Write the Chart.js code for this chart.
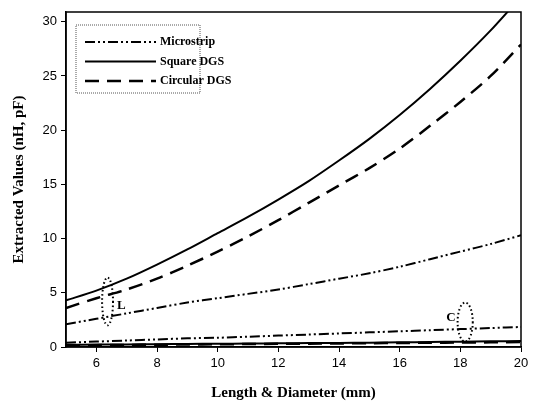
<!DOCTYPE html>
<html>
<head>
<meta charset="utf-8">
<script src="https://cdn.jsdelivr.net/npm/chart.js@4.4.0/dist/chart.umd.min.js"></script>
<style>
  html, body { margin: 0; padding: 0; background: #fff; }
  #wrap { width: 533px; height: 406px; }
</style>
</head>
<body>
<div id="wrap"><canvas id="chart"></canvas></div>
<script>
// x values (mm)
const lengths = [5, 6, 7, 8, 9, 10, 11, 12, 13, 14, 15, 16, 17, 18, 19, 20];

// inductance (nH)
const microstripL = [2.1, 2.6, 3.1, 3.6, 4.1, 4.5, 4.9, 5.3, 5.8, 6.3, 6.8, 7.4, 8.1, 8.8, 9.5, 10.3];
const squareL = [4.3, 5.2, 6.3, 7.6, 9.0, 10.5, 12.0, 13.6, 15.3, 17.2, 19.2, 21.4, 23.8, 26.4, 29.2, 32.3];
const circularL = [3.6, 4.5, 5.3, 6.3, 7.5, 8.8, 10.2, 11.7, 13.3, 14.9, 16.5, 18.3, 20.4, 22.6, 25.0, 27.9];

// capacitance (pF)
const microstripC = [0.4, 0.5, 0.6, 0.7, 0.8, 0.85, 0.95, 1.05, 1.15, 1.25, 1.35, 1.45, 1.55, 1.65, 1.75, 1.85];
const squareC = [0.2, 0.22, 0.24, 0.26, 0.28, 0.3, 0.32, 0.34, 0.36, 0.38, 0.4, 0.43, 0.46, 0.49, 0.52, 0.55];
const circularC = [0.15, 0.17, 0.19, 0.21, 0.23, 0.25, 0.27, 0.29, 0.31, 0.33, 0.35, 0.37, 0.39, 0.41, 0.43, 0.46];

const seriesNames = ['Microstrip', 'Square DGS', 'Circular DGS'];
const xTicks = [6, 8, 10, 12, 14, 16, 18, 20];
const yTicks = [0, 5, 10, 15, 20, 25, 30];

// dotted group markers: label, centre x, centre y, half width, half height (data units)
const groupLabels = ['L', 'C'];
const groupCx = [6.37, 18.16];
const groupCy = [4.2, 2.3];
const groupRx = [0.18, 0.25];
const groupRy = [2.2, 1.8];

const styles = [
    { dash: [10, 3, 2, 3, 2, 3], width: 2 },
    { dash: [], width: 2 },
    { dash: [14, 8], width: 2.5 }
];

function pts(ys) {
    return lengths.map((x, i) => ({ x: x, y: ys[i] }));
}

function makeSet(label, ys, s, inLegend) {
    return {
        label: label,
        data: pts(ys),
        borderColor: '#000',
        borderWidth: s.width,
        borderDash: s.dash,
        pointRadius: 0,
        tension: 0.3,
        fill: false,
        inLegend: inLegend
    };
}

const serif = '"Liberation Serif", "Times New Roman", serif';
const sans = '"Liberation Sans", Arial, sans-serif';

// box round the plot, the legend and the L/C markers
const extrasPlugin = {
    id: 'extras',
    afterDraw(chart) {
        const ctx = chart.ctx;
        const a = chart.chartArea;
        const xs = chart.scales.x, ys = chart.scales.y;
        ctx.save();
        ctx.strokeStyle = '#000';
        ctx.lineWidth = 1.5;
        ctx.setLineDash([]);
        ctx.strokeRect(a.left, a.top, a.right - a.left, a.bottom - a.top);

        // legend
        const lx = a.left + 10, ly = a.top + 13, lw = 124, lh = 68;
        ctx.lineWidth = 1;
        ctx.strokeStyle = '#555';
        ctx.setLineDash([1, 1]);
        ctx.strokeRect(lx, ly, lw, lh);
        const items = chart.data.datasets.filter(d => d.inLegend);
        ctx.font = 'bold 12px ' + serif;
        ctx.textBaseline = 'middle';
        ctx.fillStyle = '#000';
        items.forEach((d, i) => {
            const yy = ly + 17 + i * 19.5;
            ctx.strokeStyle = '#000';
            ctx.lineWidth = d.borderWidth;
            ctx.setLineDash(d.borderDash);
            ctx.beginPath();
            ctx.moveTo(lx + 9, yy);
            ctx.lineTo(lx + 80, yy);
            ctx.stroke();
            ctx.fillText(d.label, lx + 84, yy);
        });

        // dotted group markers
        ctx.lineWidth = 2;
        ctx.setLineDash([1.5, 2.5]);
        ctx.font = 'bold 13px ' + serif;
        groupLabels.forEach((lab, i) => {
            const cx = xs.getPixelForValue(groupCx[i]);
            const cy = ys.getPixelForValue(groupCy[i]);
            const rx = Math.abs(xs.getPixelForValue(groupCx[i] + groupRx[i]) - cx);
            const ry = Math.abs(ys.getPixelForValue(groupCy[i] + groupRy[i]) - cy);
            ctx.beginPath();
            ctx.ellipse(cx, cy, rx, ry, 0, 0, Math.PI * 2);
            ctx.stroke();
            if (lab === 'L') {
                ctx.textAlign = 'left';
                ctx.fillText(lab, cx + rx + 4, cy + 4);
            } else {
                ctx.textAlign = 'right';
                ctx.fillText(lab, cx - rx - 2, cy - 4);
            }
        });
        ctx.restore();
    }
};

new Chart(document.getElementById('chart'), {
    type: 'line',
    data: {
        datasets: [
            makeSet(seriesNames[0], microstripL, styles[0], true),
            makeSet(seriesNames[1], squareL, styles[1], true),
            makeSet(seriesNames[2], circularL, styles[2], true),
            makeSet(seriesNames[0] + ' C', microstripC, styles[0], false),
            makeSet(seriesNames[1] + ' C', squareC, styles[1], false),
            makeSet(seriesNames[2] + ' C', circularC, styles[2], false)
        ]
    },
    options: {
        responsive: true,
        maintainAspectRatio: false,
        animation: false,
        layout: { padding: { top: 12, right: 12, left: 0, bottom: 0 } },
        plugins: {
            legend: { display: false },
            tooltip: { enabled: false }
        },
        scales: {
            x: {
                type: 'linear',
                min: 5,
                max: 20,
                afterBuildTicks: s => { s.ticks = xTicks.map(v => ({ value: v })); },
                afterFit: s => { s.height = 59; },
                grid: { drawOnChartArea: false, drawTicks: true, tickLength: 5, color: '#000' },
                border: { display: true, color: '#000', width: 1.5 },
                ticks: { color: '#000', font: { family: sans, size: 13 }, padding: 4 },
                title: {
                    display: true,
                    text: 'Length & Diameter (mm)',
                    color: '#000',
                    font: { family: serif, size: 15, weight: 'bold' },
                    padding: { top: 10 }
                }
            },
            y: {
                min: 0,
                max: 30.9,
                afterBuildTicks: s => { s.ticks = yTicks.map(v => ({ value: v })); },
                afterFit: s => { s.width = 66; },
                grid: { drawOnChartArea: false, drawTicks: true, tickLength: 5, color: '#000' },
                border: { display: true, color: '#000', width: 1.5 },
                ticks: { color: '#000', font: { family: sans, size: 13 }, padding: 4 },
                title: {
                    display: true,
                    text: 'Extracted Values (nH, pF)',
                    color: '#000',
                    font: { family: serif, size: 15, weight: 'bold' },
                    padding: { top: 10, bottom: 4 }
                }
            }
        }
    },
    plugins: [extrasPlugin]
});
</script>
</body>
</html>
